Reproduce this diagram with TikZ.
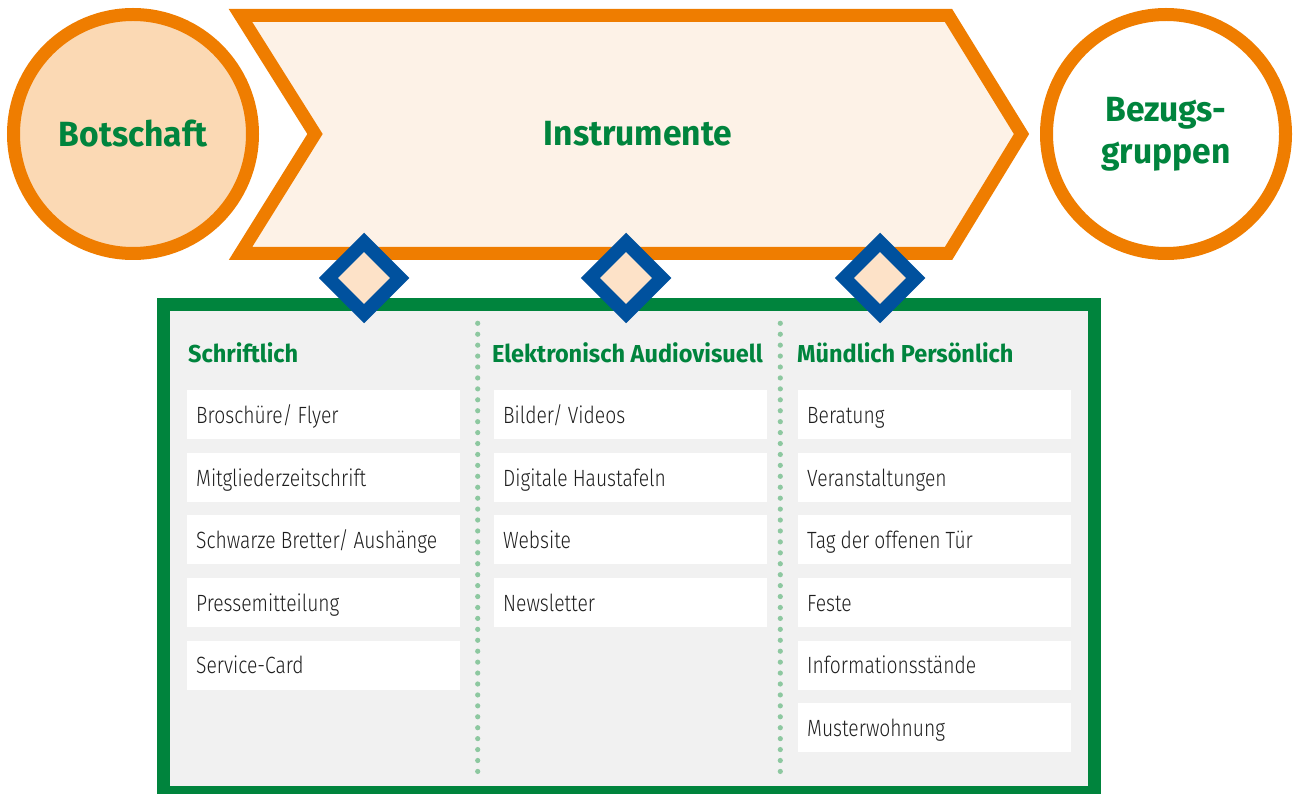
\documentclass[tikz,border=0pt]{standalone}
\usepackage{fontspec}
\setmainfont{Fira Sans}
\newfontfamily\headfont[FakeStretch=0.96]{Fira Sans}
\newfontfamily\itemfont[FakeStretch=0.82]{Fira Sans Light}
\DeclareRobustCommand\itemstyle{\itemfont\fontsize{23.5}{28}\selectfont\spaceskip 5pt\relax}
\usetikzlibrary{shapes.geometric}

\definecolor{brandorange}{HTML}{EF7D00}
\definecolor{brandgreen}{HTML}{00843D}
\definecolor{brandblue}{HTML}{00519E}
\definecolor{chevronfill}{HTML}{FDF2E7}
\definecolor{msgfill}{HTML}{FBD9B4}
\definecolor{diafill}{HTML}{FDE2C8}
\definecolor{panelgray}{HTML}{F1F1F1}
\definecolor{dotgreen}{HTML}{8DC8A0}
\definecolor{itemtext}{HTML}{1E1E1E}

\tikzset{
  bigcircle/.style={circle, draw=brandorange, line width=13, minimum size=239,
    inner sep=0, text=brandgreen, align=center,
    font=\headfont\bfseries\fontsize{35}{42}\selectfont},
  chevron/.style={draw=brandorange, line width=13, line join=miter, fill=chevronfill},
  hub/.style={diamond, draw=brandblue, fill=diafill, line width=13.5,
    minimum width=77, minimum height=77, inner sep=0},
  panel/.style={draw=brandgreen, line width=13, fill=panelgray},
  colhead/.style={anchor=base west, inner sep=0, text=brandgreen,
    font=\headfont\bfseries\fontsize{24.5}{28}\selectfont},
  item/.style={anchor=north west, fill=white, text=itemtext, inner xsep=9,
    inner ysep=0, text width=255, text height=22, text depth=4.4,
    minimum height=49, align=flush left, font=\itemstyle},
  dotline/.style={dotgreen, line width=5.2, line cap=round,
    dash pattern=on 0pt off 10.93pt},
}

\begin{document}
\begin{tikzpicture}[x=1pt, y=-1pt]
  \useasboundingbox (0,0) rectangle (1293,794);

  % --- instrument panel ---
  \draw[panel] (163.5,304.5) rectangle (1094.2,792.5);

  % column separators
  \coordinate (s1t) at (477.7,323.3);
  \coordinate (s1b) at (477.7,774);
  \coordinate (s2t) at (780.3,323.3);
  \coordinate (s2b) at (780.3,774);
  \draw[dotline] (s1t) -- (s1b);
  \draw[dotline] (s2t) -- (s2b);

  % --- message, instruments, target groups ---
  \node[bigcircle, fill=msgfill] (botschaft) at (133,134) {Botschaft};

  \coordinate (c1) at (240.5,15.5);
  \coordinate (c2) at (948.5,15.5);
  \coordinate (c3) at (1021.5,134);
  \coordinate (c4) at (948.5,253.5);
  \coordinate (c5) at (240.5,253.5);
  \coordinate (c6) at (315,134);
  \draw[chevron] (c1) -- (c2) -- (c3) -- (c4) -- (c5) -- (c6) -- cycle;
  \node[text=brandgreen, font=\headfont\bfseries\fontsize{35}{42}\selectfont]
    (instrumente) at (638,134) {Instrumente};

  \node[bigcircle, fill=white] (bezug) at (1166,134) {Bezugs-\\gruppen};

  % --- hubs joining the chevron and the panel ---
  \node[hub] (hub1) at (364,278) {};
  \node[hub] (hub2) at (626,278) {};
  \node[hub] (hub3) at (880,278) {};

  % --- column headings ---
  \node[colhead] (h1) at (188,362) {Schriftlich};
  \node[colhead] (h2) at (492,362) {Elektronisch Audiovisuell};
  \node[colhead] (h3) at (797,362) {Mündlich Persönlich};

  % --- written ---
  \node[item] (a1) at (187,390)   {Broschüre/ Flyer};
  \node[item] (a2) at (187,452.6) {Mitgliederzeitschrift};
  \node[item] (a3) at (187,515.2) {Schwarze Bretter/ Aushänge};
  \node[item] (a4) at (187,577.8) {Pressemitteilung};
  \node[item] (a5) at (187,640.4) {Service-Card};

  % --- electronic / audiovisual ---
  \node[item] (b1) at (494,390)   {Bilder/ Videos};
  \node[item] (b2) at (494,452.6) {Digitale Haustafeln};
  \node[item] (b3) at (494,515.2) {Website};
  \node[item] (b4) at (494,577.8) {Newsletter};

  % --- oral / personal ---
  \node[item] (m1) at (798,390)   {Beratung};
  \node[item] (m2) at (798,452.6) {Veranstaltungen};
  \node[item] (m3) at (798,515.2) {Tag der offenen Tür};
  \node[item] (m4) at (798,577.8) {Feste};
  \node[item] (m5) at (798,640.4) {Informationsstände};
  \node[item] (m6) at (798,703)   {Musterwohnung};
\end{tikzpicture}
\end{document}
